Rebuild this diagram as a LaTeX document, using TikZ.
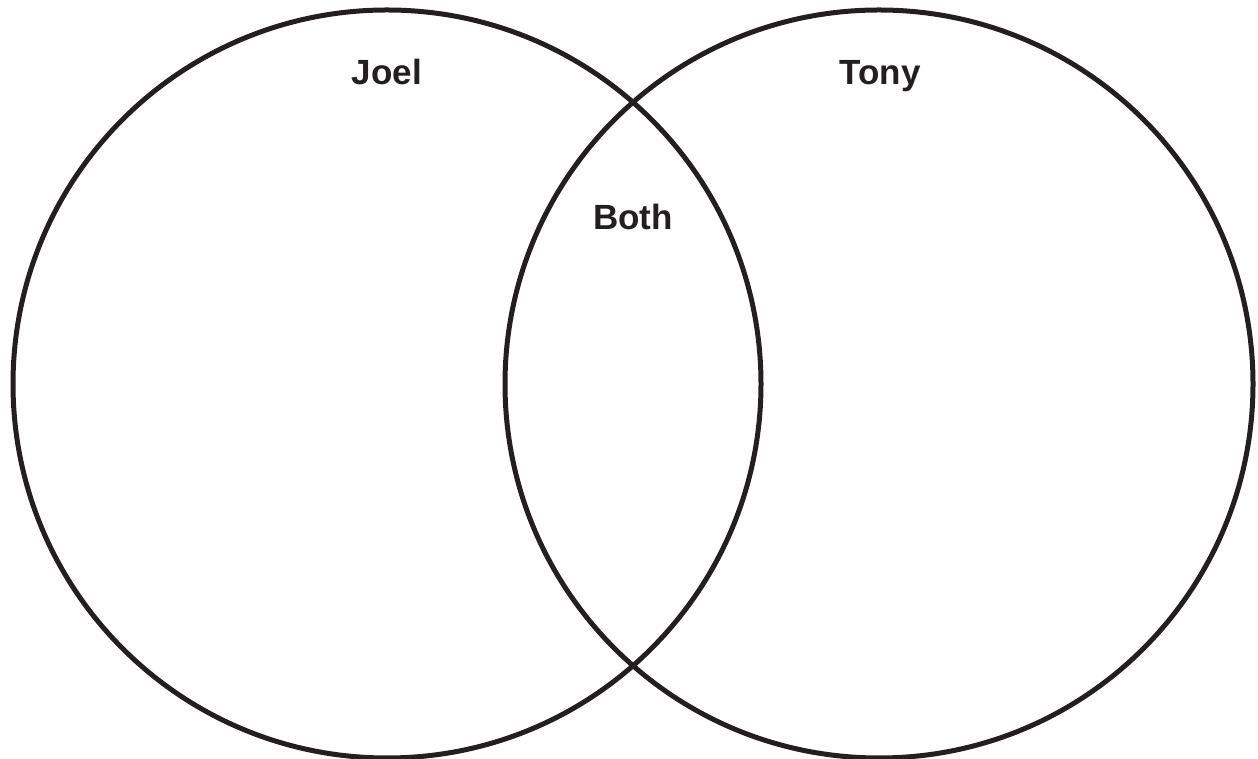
\documentclass[tikz,border=0pt]{standalone}
\usepackage{fontspec}
\setmainfont{Liberation Sans}
\usepackage{tikz}
\usetikzlibrary{positioning}
\definecolor{mydark}{RGB}{35,31,32}
\tikzset{
  setcircle/.style={circle, draw=mydark, line width=5pt,
    minimum size=748pt, inner sep=0pt},
  setlabel/.style={font=\fontsize{35}{40}\selectfont\bfseries, text=mydark,
    anchor=base}
}

\begin{document}
\begin{tikzpicture}[x=1pt, y=1pt]
  % Page frame
  \useasboundingbox (0,0) rectangle (1258,759);

  % The two sets
  \node[setcircle] (joelset) at (387, 375) {};
  \node[setcircle] (tonyset) at (879, 375) {};

  % Labels
  \node[setlabel] (joel) at (387, 674) {Joel};
  \node[setlabel] (tony) at (880, 674) {Tony};
  \node[setlabel] (both) at (633, 529) {Both};
\end{tikzpicture}
\end{document}
